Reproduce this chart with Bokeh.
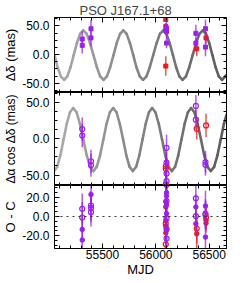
import numpy as np
from bokeh.plotting import figure
from bokeh.layouts import column
from bokeh.models import (Range1d, SingleIntervalTicker, LinearAxis,
                          PrintfTickFormatter, CustomJSTickFormatter, Span)
from bokeh.embed import file_html
from bokeh.resources import INLINE

# ---------------- data ----------------
title_text = "PSO J167.1+68"
x_label = "MJD"
y_labels = ["\u0394\u03b4 (mas)", "\u0394\u03b1 cos \u0394\u03b4 (mas)", "O - C"]

# model curve, Delta delta
dec_curve_mjd = [55050, 55080, 55110, 55140, 55170, 55200, 55230, 55260, 55290, 55320,
                 55352, 55383, 55415, 55447, 55478, 55510, 55541, 55572, 55603, 55633,
                 55664, 55695, 55726, 55757, 55788, 55818, 55849, 55880, 55912, 55943,
                 55975, 56007, 56038, 56070, 56100, 56130, 56160, 56190, 56220, 56250,
                 56282, 56313, 56345, 56377, 56408, 56440, 56470, 56500, 56530, 56560,
                 56590, 56620, 56650, 56662]
dec_curve_val = [-1, -22.5, -38, -44, -38, -22, -1, 20, 36, 42,
                 36, 20, -1, -22, -38, -44, -38, -22, -1, 20,
                 36, 42, 36, 20, -1, -22, -38, -44, -38, -22,
                 -1, 20, 36, 42, 36, 20, -1, -22, -38, -44,
                 -38, -22, -1, 20, 36, 42, 36, 20, -1, -22,
                 -38, -44, -38, -35]

# model curve, Delta alpha cos delta
ra_curve_mjd = [55050, 55075, 55105, 55135, 55165, 55195, 55225, 55257, 55288, 55320,
                55352, 55383, 55415, 55446, 55477, 55508, 55538, 55569, 55600, 55631,
                55662, 55693, 55723, 55754, 55785, 55815, 55845, 55875, 55905, 55935,
                55965, 55996, 56027, 56058, 56088, 56119, 56150, 56180, 56210, 56240,
                56270, 56300, 56330, 56361, 56392, 56423, 56453, 56484, 56515, 56546,
                56577, 56608, 56638, 56662]
ra_curve_val = [-44.3, -38.7, -22.8, -1, 20.8, 36.7, 42.5, 36.7, 20.8, -1,
                -22.8, -38.7, -44.5, -38.7, -22.8, -1, 20.8, 36.7, 42.5, 36.7,
                20.8, -1, -22.8, -38.7, -44.5, -38.7, -22.8, -1, 20.8, 36.7,
                42.5, 36.7, 20.8, -1, -22.8, -38.7, -44.5, -38.7, -22.8, -1,
                20.8, 36.7, 42.5, 36.7, 20.8, -1, -22.8, -38.7, -44.5, -38.7,
                -22.8, -1, 20.8, 33]

# Delta delta measurements (filled)
dec_p_mjd = [55310, 55310, 55392, 55392, 56100, 56100, 56100, 56375, 56375, 56465, 56465]
dec_p_val = [27, 16, 45, 29, 46, 40, 20, 37, 20, 45, 13]
dec_p_err = [14, 14, 15, 15, 15, 12, 9, 15, 9, 16, 16]
dec_r_mjd = [56093, 56093, 56093, 56093, 56383, 56470]
dec_r_val = [61, 49, 42, -20, 10, 29]
dec_r_err = [4, 6, 7, 17, 13, 10]

# Delta alpha cos delta measurements (open)
ra_p_mjd = [55310, 55310, 55392, 55392, 56100, 56100, 56100, 56100, 56375, 56375, 56465, 56465]
ra_p_val = [13.5, 4.5, -31, -36.5, -12.5, -33, -48, -58.5, 45.5, 26.5, -32, -36]
ra_p_err = [16, 16, 16, 16, 18, 15, 15, 15, 15, 14, 15, 15]
ra_r_mjd = [56093, 56093, 56093, 56383, 56470]
ra_r_val = [-38, -41.5, -63, 14, 18.5]
ra_r_err = [16, 12, 12, 15, 16]

# O - C residuals
oc_pf_mjd = [55310, 55310, 55392, 56100, 56100, 56100, 56100, 56100, 56375, 56375, 56465, 56465]
oc_pf_val = [-13.5, -24.5, 23, 25, 21.5, 12, 3, -14, 10, -7.5, 11, -21.5]
oc_pf_err = [14, 14, 14, 12, 12, 12, 12, 12, 13, 13, 16, 16]
oc_po_mjd = [55310, 55310, 55392, 55392, 55392, 56100, 56100, 56100, 56100, 56100,
             56375, 56375, 56465, 56465]
oc_po_val = [8, -1, 11.5, 9, 4.5, 33, 16, -2, -13, -23, 19, 0.5, 3, 1.5]
oc_po_err = [16, 16, 15, 15, 15, 18, 15, 15, 15, 15, 15, 15, 15, 15]
oc_rf_mjd = [56093, 56093, 56093, 56093, 56093, 56383, 56470, 56470]
oc_rf_val = [15.5, 10, -4.5, -10, -17, -18, -4, -7]
oc_rf_err = [18, 8, 12, 12, 17, 15, 10, 10]
oc_ro_mjd = [56093, 56093, 56383, 56470]
oc_ro_val = [-7.5, -29, -12.5, -1]
oc_ro_err = [16, 12, 15, 10]

# ---------------- style ----------------
FONT = "Liberation Sans"
PURPLE = "#9a20ee"
RED = "#f01818"
X0, X1 = 55050, 56662
XR = Range1d(X0, X1)


def style_axis(ax, hidden):
    ax.axis_line_color = "black"
    ax.major_tick_in = 5
    ax.major_tick_out = 0
    ax.minor_tick_in = 3
    ax.minor_tick_out = 0
    ax.major_tick_line_color = "black"
    ax.minor_tick_line_color = "black"
    ax.major_label_text_font = FONT
    ax.major_label_text_font_size = "12px"
    ax.major_label_text_color = "black"
    ax.axis_label_text_font = FONT
    ax.axis_label_text_font_size = "13px"
    ax.axis_label_text_font_style = "normal"
    ax.axis_label_text_color = "black"
    if hidden:
        ax.formatter = CustomJSTickFormatter(code="return ''")
        ax.major_label_standoff = 0
        ax.axis_label = None


def make_fig(yr, frame_h, btop, bbot, ylabel, interval, bottom_labels=False,
             title=None, label_size="13px"):
    p = figure(frame_width=172, frame_height=frame_h, x_range=XR,
               y_range=Range1d(*yr), output_backend="svg", toolbar_location=None,
               min_border_left=51, min_border_right=10, min_border_top=btop,
               min_border_bottom=bbot, x_axis_location=None, y_axis_location=None,
               title=title)
    p.grid.visible = False
    p.outline_line_color = "black"
    p.outline_line_width = 1
    p.background_fill_color = "white"
    p.border_fill_color = "white"

    left = LinearAxis(ticker=SingleIntervalTicker(interval=interval, num_minor_ticks=4),
                      formatter=PrintfTickFormatter(format="%.1f"), axis_label=ylabel)
    style_axis(left, False)
    left.axis_label_text_font_size = label_size
    left.major_label_standoff = 5
    left.axis_label_standoff = 1
    p.add_layout(left, "left")

    right = LinearAxis(ticker=SingleIntervalTicker(interval=interval, num_minor_ticks=4))
    style_axis(right, True)
    p.add_layout(right, "right")

    top = LinearAxis(ticker=SingleIntervalTicker(interval=500, num_minor_ticks=5))
    style_axis(top, True)
    p.add_layout(top, "above")

    bot = LinearAxis(ticker=SingleIntervalTicker(interval=500, num_minor_ticks=5),
                     axis_label=x_label if bottom_labels else None)
    style_axis(bot, not bottom_labels)
    if bottom_labels:
        bot.major_label_standoff = 1
        bot.axis_label_standoff = 0
    p.add_layout(bot, "below")
    return p


def draw_curve(p, mjd, val):
    cx = np.array(mjd, dtype=float)
    cy = np.array(val, dtype=float)
    mid = (cx[:-1] + cx[1:]) / 2
    frac = (mid - X0) / (X1 - X0)
    levels = (172 - frac * 80).astype(int)
    cols = ["#%02x%02x%02x" % (g, g, g) for g in levels]
    p.segment(x0=cx[:-1], y0=cy[:-1], x1=cx[1:], y1=cy[1:], line_color=cols,
              line_width=2.6, line_cap="round")


def draw_points(p, mjd, val, err, color, filled, marker="circle", size=4.5):
    x = np.array(mjd, dtype=float)
    y = np.array(val, dtype=float)
    e = np.array(err, dtype=float)
    p.segment(x0=x, y0=y - e, x1=x, y1=y + e, line_color=color, line_width=1.5,
              line_alpha=0.75)
    if filled:
        p.scatter(x, y, marker=marker, size=size, fill_color=color, line_color=color)
    else:
        p.scatter(x, y, marker="circle", size=5, fill_alpha=0, line_color=color,
                  line_width=1.2)


p1 = make_fig((-66, 64.5), 75, 13, 0, y_labels[0], 50, title=title_text)
p1.title.text_font = FONT
p1.title.text_font_size = "13px"
p1.title.text_font_style = "normal"
p1.title.align = "left"
p1.title.offset = 25
p1.title.standoff = 0
draw_curve(p1, dec_curve_mjd, dec_curve_val)
draw_points(p1, dec_r_mjd, dec_r_val, dec_r_err, RED, True, "square", 4)
draw_points(p1, dec_p_mjd, dec_p_val, dec_p_err, PURPLE, True, "square", 4)

p2 = make_fig((-64.5, 64), 93, 0, 0, y_labels[1], 50, label_size="12px")
draw_curve(p2, ra_curve_mjd, ra_curve_val)
draw_points(p2, ra_r_mjd, ra_r_val, ra_r_err, RED, False)
draw_points(p2, ra_p_mjd, ra_p_val, ra_p_err, PURPLE, False)

p3 = make_fig((-33.4, 32.4), 63, 0, 23, y_labels[2], 20, bottom_labels=True)
p3.add_layout(Span(location=0, dimension="width", line_color="#333333",
                   line_dash="dotted", line_width=1))
draw_points(p3, oc_rf_mjd, oc_rf_val, oc_rf_err, RED, True)
draw_points(p3, oc_ro_mjd, oc_ro_val, oc_ro_err, RED, False)
draw_points(p3, oc_pf_mjd, oc_pf_val, oc_pf_err, PURPLE, True)
draw_points(p3, oc_po_mjd, oc_po_val, oc_po_err, PURPLE, False)

layout = column(p1, p2, p3, spacing=0)
open("out.html", "w").write(file_html(layout, INLINE))
